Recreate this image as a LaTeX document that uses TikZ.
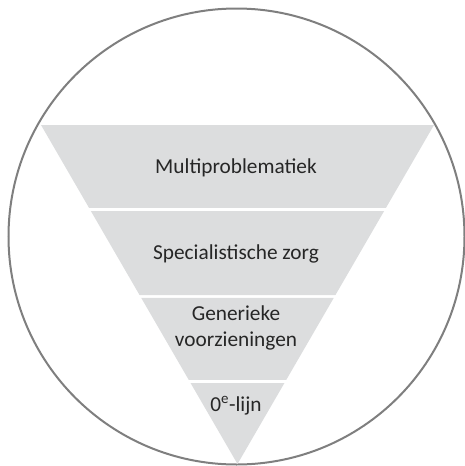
\documentclass[tikz,border=0pt]{standalone}
\usepackage{fontspec}
\setmainfont{Carlito}
\usetikzlibrary{calc}
\definecolor{bandgray}{HTML}{DCDDDE}
\definecolor{ringgray}{HTML}{7F7F7F}
\definecolor{labelgray}{HTML}{262626}
\begin{document}
\begin{tikzpicture}[x=1pt, y=-1pt, every node/.style={font=\fontsize{21.3}{26}\selectfont, text=labelgray, align=center, anchor=base}]
  \useasboundingbox (0,0) rectangle (464,466);
  \draw[ringgray, line width=2pt] (236.5,236.5) circle[radius=228pt];
  \coordinate (tl) at (41,125);
  \coordinate (tr) at (434,125);
  \coordinate (tip) at (237.5,464);
  % three trapezoid bands, then the tip
  \foreach \a/\b in {0/0.2448, 0.2537/0.5015, 0.5103/0.7522}
    \fill[bandgray] ($(tl)!\a!(tip)$) -- ($(tr)!\a!(tip)$) -- ($(tr)!\b!(tip)$) -- ($(tl)!\b!(tip)$) -- cycle;
  \fill[bandgray] ($(tl)!0.7611!(tip)$) -- ($(tr)!0.7611!(tip)$) -- (tip) -- cycle;
  \node (multi) at (236,173) {Multiproblematiek};
  \node (spec) at (236,259) {Specialistische zorg};
  \node (gener) at (236,346) {Generieke\\voorzieningen};
  \node (nul) at (236,411) {0\textsuperscript{e}-lijn};
\end{tikzpicture}
\end{document}
